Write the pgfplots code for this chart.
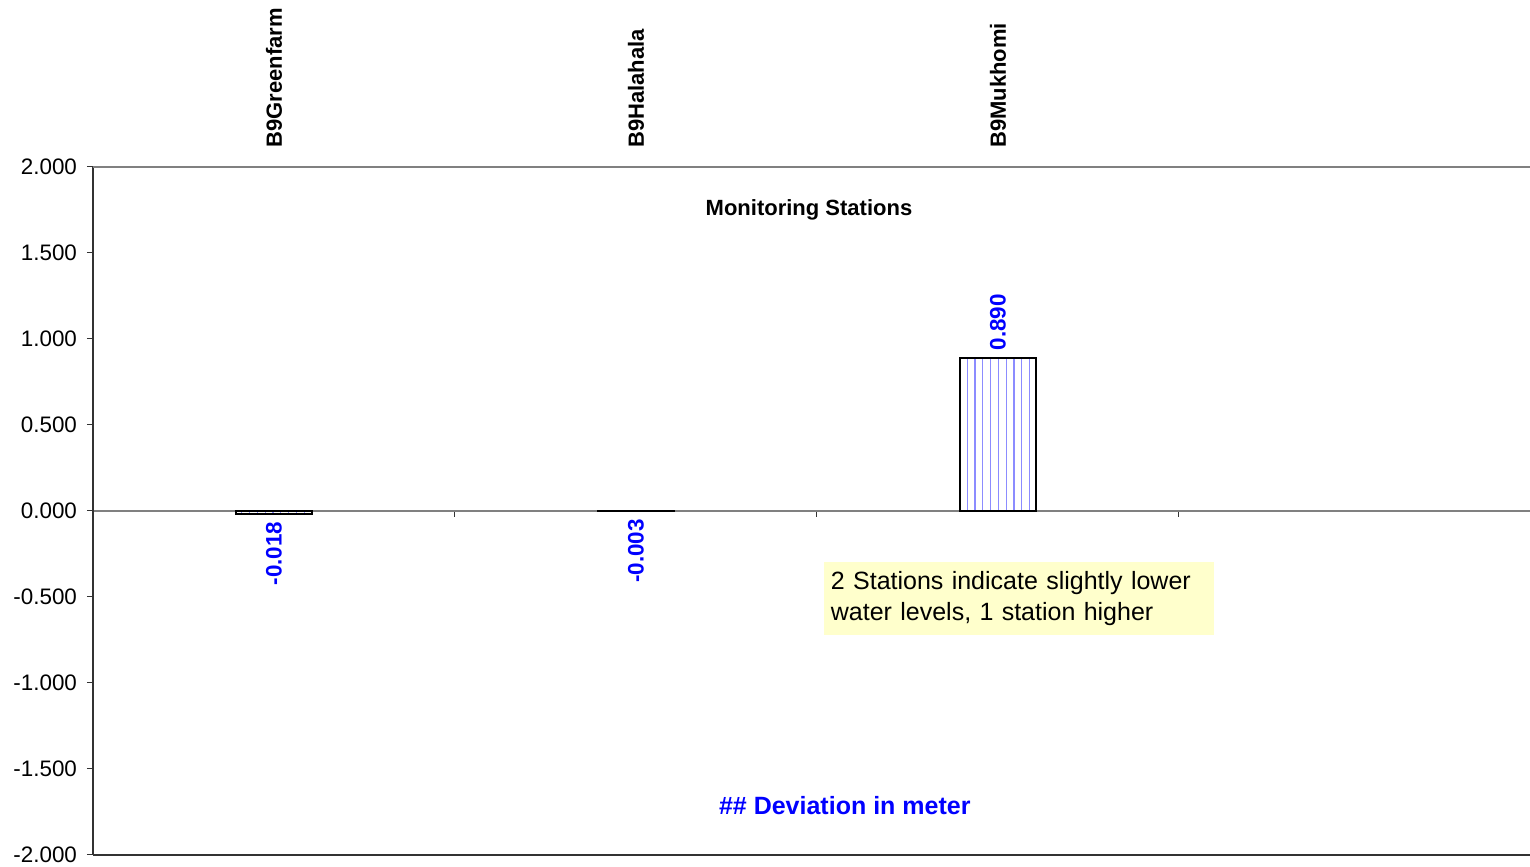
\documentclass[border=0pt]{standalone}
\usepackage{pgfplots}
\pgfplotsset{compat=1.18}
\usepackage{fontspec}
\setmainfont{Liberation Sans}
\usetikzlibrary{patterns.meta}
\definecolor{notebg}{RGB}{255,255,204}
\definecolor{barline}{RGB}{140,140,255}
\definecolor{axgray}{RGB}{128,128,128}
\begin{document}
\begin{tikzpicture}
\begin{axis}[
  name=ax,
  width=718.5pt, height=344pt, scale only axis,
  xmin=-0.5, xmax=3.47, ymin=-2, ymax=2,
  axis y line=left, axis x line=middle,
  axis line style={-},
  x axis line style={axgray, line width=0.6pt},
  y axis line style={black!80, line width=0.6pt},
  xtick={0.5,1.5,2.5}, xticklabels={},
  ytick={-2,-1.5,-1,-0.5,0,0.5,1,1.5,2},
  tick align=outside, major tick length=3pt,
  tick style={black!80, line width=0.5pt},
  yticklabel style={font=\fontsize{11.2}{13}\selectfont, xshift=-1.5pt,
    /pgf/number format/.cd, fixed, fixed zerofill, precision=3, assume math mode=true},
  clip=false,
]
\addplot[ybar, bar width=38pt, bar shift=0pt, draw=black, line width=1pt,
  pattern={Lines[angle=90, distance=3.9pt, line width=0.65pt]}, pattern color=barline,
  point meta=explicit symbolic, nodes near coords,
  nodes near coords style={rotate=90, anchor=west, text=blue, font=\fontsize{11.2}{13}\bfseries}]
  coordinates {(2,0.890)[0.890]};
\addplot[ybar, bar width=38pt, bar shift=0pt, draw=black, line width=1pt,
  pattern={Lines[angle=90, distance=3.9pt, line width=0.65pt]}, pattern color=barline,
  point meta=explicit symbolic, nodes near coords,
  nodes near coords style={rotate=90, anchor=east, text=blue, font=\fontsize{11.2}{13}\bfseries}]
  coordinates {(0,-0.018)[-0.018] (1,-0.003)[-0.003]};
\draw[axgray, line width=0.6pt] (axis cs:-0.5,2) -- (axis cs:3.47,2);
\draw[black!80, line width=0.6pt] (axis cs:-0.5,-2) -- (axis cs:3.47,-2);
\node[rotate=90, anchor=west, inner sep=0pt, font=\fontsize{11}{13}\bfseries\selectfont] at ([yshift=9.5pt]axis cs:0,2) {B9Greenfarm};
\node[rotate=90, anchor=west, inner sep=0pt, font=\fontsize{11}{13}\bfseries\selectfont] at ([yshift=9.5pt]axis cs:1,2) {B9Halahala};
\node[rotate=90, anchor=west, inner sep=0pt, font=\fontsize{11}{13}\bfseries\selectfont] at ([yshift=9.5pt]axis cs:2,2) {B9Mukhomi};
\node[font=\fontsize{11}{13}\bfseries\selectfont] at (axis cs:1.478,1.75) {Monitoring Stations};
\node[font=\fontsize{12.5}{15}\bfseries\selectfont, text=blue] at (axis cs:1.577,-1.715) {\#\# Deviation in meter};
\node[fill=notebg, inner sep=3.5pt, text width=188pt, minimum height=36.5pt, align=left,
  font=\fontsize{12.5}{15.5}\selectfont] at (axis cs:2.058,-0.509)
  {2 Stations indicate slightly lower\\water levels, 1 station higher};
\end{axis}
\pgfresetboundingbox
\path ([xshift=-46.5pt, yshift=-6pt]ax.south west) rectangle ([yshift=83.5pt]ax.north east);
\end{tikzpicture}
\end{document}
